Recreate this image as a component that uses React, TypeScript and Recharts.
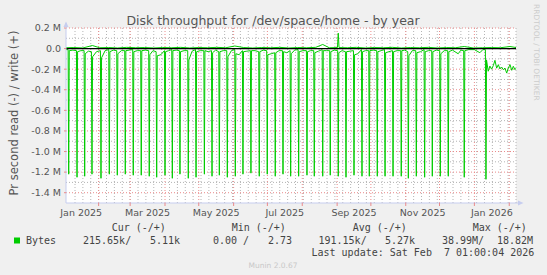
import React from 'react';
import { LineChart, Line, XAxis, YAxis, CartesianGrid, ReferenceLine } from 'recharts';

// x = days counted from 1 Jan 2025 (day 0); the graph shows the last 400 days
// y = bytes per second in millions (reads are drawn negative)
const xDomain = [2, 402];
const monthStarts = [31, 59, 90, 120, 151, 181, 212, 243, 273, 304, 334, 365, 396];
const monthLabelDays = [15.5, 74.5, 135.5, 196.5, 258, 319, 380.5];
const monthLabels = ['Jan 2025', 'Mar 2025', 'May 2025', 'Jul 2025', 'Sep 2025', 'Nov 2025', 'Jan 2026'];
const weekLines = Array.from({ length: 57 }, (_, i) => 10 + 7 * i);
const yTicks = [-1.4, -1.2, -1.0, -0.8, -0.6, -0.4, -0.2, 0, 0.2];
const yMinor = [-1.3, -1.1, -0.9, -0.7, -0.5, -0.3, -0.1, 0.1];

// weekly read bursts
const spikeDays = [
  4.4, 11.8, 18.6, 25.1, 33.1, 40.5, 47.6, 54.7, 61.8, 68.9,
  76.0, 82.6, 90.0, 96.5, 103.3, 110.7, 117.6, 125.0, 131.8, 138.3,
  145.4, 152.5, 159.3, 166.4, 173.8, 180.9, 188.0, 194.9, 201.7, 208.8,
  216.2, 222.7, 230.2, 236.9, 244.0, 250.9, 258.0, 265.1, 271.6, 278.7,
  285.6, 292.7, 300.0, 306.3, 313.4, 320.8, 327.6, 334.7, 341.8, 356.0,
  375.3,
];
const spikeDepth = [
  -1.22, -1.25, -1.24, -1.22, -1.26, -1.22, -1.23, -1.22, -1.23, -1.23,
  -1.24, -1.25, -1.23, -1.26, -1.22, -1.26, -1.25, -1.22, -1.24, -1.23,
  -1.25, -1.24, -1.22, -1.21, -1.24, -1.22, -1.24, -1.22, -1.24, -1.24,
  -1.23, -1.24, -1.24, -1.23, -1.24, -1.25, -1.23, -1.24, -1.24, -1.24,
  -1.24, -1.24, -1.24, -1.26, -1.24, -1.25, -1.24, -1.24, -1.24, -1.25,
  -1.27,
];
const preVals = [
  -0.01, -0.02, -0.02, -0.03, -0.02, -0.01, -0.02, -0.02, -0.01, -0.02,
  -0.02, -0.03, -0.02, -0.01, -0.02, -0.02, -0.01, -0.02, -0.02, -0.03,
  -0.02, -0.01, -0.02, -0.02, -0.03, -0.02, -0.04, -0.02, -0.02, -0.01,
  -0.02, -0.02, -0.01, -0.02, -0.02, -0.03, -0.02, -0.01, -0.02, -0.02,
  -0.01, -0.02, -0.02, -0.03, -0.02, -0.01, -0.02, -0.02, -0.02, -0.02,
  -0.01,
];
const postVals = [
  -0.02, -0.03, -0.05, -0.08, -0.09, -0.03, -0.05, -0.02, -0.03, -0.02,
  -0.06, -0.07, -0.03, -0.02, -0.03, -0.11, -0.03, -0.02, -0.04, -0.03,
  -0.08, -0.05, -0.03, -0.02, -0.03, -0.06, -0.04, -0.03, -0.05, -0.03,
  -0.03, -0.04, -0.02, -0.03, -0.04, -0.03, -0.06, -0.03, -0.02, -0.03,
  -0.04, -0.03, -0.02, -0.07, -0.04, -0.03, -0.03, -0.05, -0.03, -0.02,
  -0.11,
];
// read level between the bursts, and the noisy tail after mid January
const baseDays = [
  2.0, 8.1, 15.2, 21.9, 29.1, 36.8, 44.0, 51.2, 58.2, 65.3, 72.4,
  79.3, 86.3, 93.2, 99.9, 107.0, 114.1, 121.3, 128.4, 135.0, 141.8,
  149.0, 155.9, 162.8, 170.1, 177.3, 184.4, 191.4, 198.3, 205.2, 212.5,
  219.4, 226.4, 233.5, 240.4, 247.4, 254.4, 261.5, 268.3, 275.1, 282.1,
  289.1, 296.3, 303.1, 309.8, 317.1, 324.2, 331.1, 338.2,
  345.5, 350.6, 353.0, 360.0, 365.0, 369.9, 372.5,
  377.3, 378.8, 380.3, 381.8, 383.3, 384.8, 386.3, 387.7, 389.2,
  390.7, 392.2, 393.7, 395.2, 396.7, 398.2, 399.6, 401.1, 402.0,
];
const baseVals = [
  -0.01, -0.015, -0.02, -0.025, -0.03, -0.02, -0.015, -0.02, -0.015, -0.02, -0.015,
  -0.02, -0.06, -0.02, -0.015, -0.02, -0.025, -0.02, -0.03, -0.015, -0.02,
  -0.02, -0.06, -0.025, -0.02, -0.015, -0.05, -0.02, -0.04, -0.015, -0.02,
  -0.02, -0.025, -0.02, -0.015, -0.02, -0.025, -0.05, -0.02, -0.015, -0.02,
  -0.03, -0.02, -0.015, -0.02, -0.03, -0.02, -0.015, -0.02,
  -0.015, -0.05, -0.015, -0.01, -0.01, -0.04, -0.01,
  -0.22, -0.17, -0.2, -0.166, -0.114, -0.19, -0.156, -0.198, -0.179,
  -0.205, -0.189, -0.238, -0.189, -0.156, -0.211, -0.172, -0.205, -0.19,
];
const writeDays = [
  2, 9, 17, 25.4, 32, 40, 48, 56, 64, 72,
  80, 88, 96, 104, 112, 120, 128, 136, 144, 152,
  160, 168, 176, 184, 192, 200, 208, 216, 224, 230.2,
  236, 243.3, 244.0, 244.7, 252, 260, 268, 276, 284, 292,
  300, 308, 316, 324, 332, 340, 348, 356, 364, 372,
  380, 388, 396.7, 402,
];
const writeVals = [
  0.008, 0.01, 0.006, 0.03, 0.008, 0.01, 0.006, 0.012, 0.008, 0.01,
  0.006, 0.01, 0.008, 0.012, 0.006, 0.01, 0.008, 0.012, 0.008, 0.025,
  0.01, 0.006, 0.01, 0.008, 0.012, 0.006, 0.01, 0.008, 0.012, 0.04,
  0.008, 0.01, 0.15, 0.01, 0.008, 0.012, 0.006, 0.01, 0.008, 0.012,
  0.006, 0.01, 0.008, 0.012, 0.006, 0.01, 0.008, 0.02, 0.006, 0.008,
  0.01, 0.008, 0.02, 0.01,
];

const readData = [
  ...spikeDays.flatMap((d, i) => [
    { d: d - 0.5, v: preVals[i] },
    { d, v: spikeDepth[i] },
    { d: d + 0.5, v: postVals[i] },
  ]),
  ...baseDays.map((d, i) => ({ d, v: baseVals[i] })),
].sort((a, b) => a.d - b.d);
const writeData = writeDays.map((d, i) => ({ d, v: writeVals[i] }));

const GREEN = '#00cc00';
const AXIS = '#c6cdef';
const MINOR = '#b4b4b4';
const MAJOR = '#ea8a8a';
const FONT = 'DejaVu Sans';
const MONO = 'DejaVu Sans Mono';

const fmtY = (v: number) => (v === 0 ? '0.0' : `${v.toFixed(1)} M`);

const MonthTick = (props: any) => {
  const { x, y, payload } = props;
  const idx = monthLabelDays.indexOf(payload.value);
  if (idx >= 0) {
    return (
      <text x={x} y={y} dy={10} textAnchor="middle" fill="#555" fontSize={9.5} fontFamily={FONT}>
        {monthLabels[idx]}
      </text>
    );
  }
  return <line x1={x} x2={x} y1={y - 3} y2={y} stroke={MAJOR} />;
};

export default function App() {
  const xTicks = [...monthStarts, ...monthLabelDays].sort((a, b) => a - b);
  const legendTxt = { fontFamily: MONO, fontSize: 10, fill: '#444' };
  return (
    <div style={{ position: 'absolute', left: 0, top: 0, width: 547, height: 275, background: '#f0f0f0' }}>
      <LineChart width={547} height={275} margin={{ top: 28, right: 31, bottom: 0, left: 0 }}>
        <CartesianGrid fill="#ffffff" stroke="none" horizontal={false} vertical={false} />
        <XAxis
          type="number"
          dataKey="d"
          domain={xDomain}
          ticks={xTicks}
          interval={0}
          allowDataOverflow
          height={72}
          tickSize={3}
          tickMargin={0}
          tickLine={false}
          axisLine={{ stroke: AXIS }}
          tick={<MonthTick />}
        />
        <YAxis
          type="number"
          domain={[-1.5, 0.2]}
          ticks={yTicks}
          allowDataOverflow
          width={66}
          tickSize={2}
          tickMargin={3}
          tickLine={{ stroke: MAJOR }}
          axisLine={{ stroke: AXIS }}
          tick={{ fill: '#555', fontSize: 9.5, fontFamily: FONT }}
          tickFormatter={fmtY}
        />
        {weekLines.map((d) => (
          <ReferenceLine key={`w${d}`} x={d} stroke={MINOR} strokeDasharray="1 2" />
        ))}
        {yMinor.map((v) => (
          <ReferenceLine key={`m${v}`} y={v} stroke={MINOR} strokeDasharray="1 2" />
        ))}
        {monthStarts.map((d) => (
          <ReferenceLine key={`M${d}`} x={d} stroke={MAJOR} strokeDasharray="1 2" />
        ))}
        {yTicks.map((v) => (
          <ReferenceLine key={`Y${v}`} y={v} stroke={MAJOR} strokeDasharray="1 2" />
        ))}
        <Line data={readData} dataKey="v" type="linear" stroke={GREEN} strokeWidth={1} dot={false} isAnimationActive={false} />
        <Line data={writeData} dataKey="v" type="linear" stroke={GREEN} strokeWidth={1} dot={false} isAnimationActive={false} />
        <ReferenceLine y={0} stroke="#000" strokeWidth={1.2} />
      </LineChart>
      <svg width={547} height={275} style={{ position: 'absolute', left: 0, top: 0, pointerEvents: 'none' }}>
        <text x={273} y={25} textAnchor="middle" fontFamily={FONT} fontSize={12.5} fill="#555">
          Disk throughput for /dev/space/home - by year
        </text>
        <text transform="translate(18,113) rotate(-90)" textAnchor="middle" fontFamily={FONT} fontSize={11.5} fill="#555">
          Pr second read (-) / write (+)
        </text>
        <text transform="translate(534,4) rotate(90)" fontFamily={FONT} fontSize={7.5} fill="#cccccc">
          RRDTOOL / TOBI OETIKER
        </text>
        <line x1={66} x2={66} y1={23} y2={28} stroke={AXIS} />
        <polygon points="63.5,27 68.5,27 66,21.5" fill={AXIS} />
        <line x1={516} x2={519} y1={203} y2={203} stroke={AXIS} />
        <polygon points="518,200.5 518,205.5 523.5,203" fill={AXIS} />

        <text x={111.7} y={231} {...legendTxt}>Cur (-/+)</text>
        <text x={231.7} y={231} {...legendTxt}>Min (-/+)</text>
        <text x={352.7} y={231} {...legendTxt}>Avg (-/+)</text>
        <text x={472.7} y={231} {...legendTxt}>Max (-/+)</text>

        <rect x={14} y={237.5} width={6} height={6} fill={GREEN} />
        <text x={26} y={243.5} {...legendTxt}>Bytes</text>
        <text x={83} y={243.5} {...legendTxt}>215.65k/</text>
        <text x={150} y={243.5} {...legendTxt}>5.11k</text>
        <text x={213} y={243.5} {...legendTxt}>0.00 /</text>
        <text x={268} y={243.5} {...legendTxt}>2.73</text>
        <text x={318.5} y={243.5} {...legendTxt}>191.15k/</text>
        <text x={385} y={243.5} {...legendTxt}>5.27k</text>
        <text x={442} y={243.5} {...legendTxt}>38.99M/</text>
        <text x={497} y={243.5} {...legendTxt}>18.82M</text>

        <text x={311.5} y={256} {...legendTxt} style={{ whiteSpace: 'pre' }}>
          {'Last update: Sat Feb  7 01:00:04 2026'}
        </text>
        <text x={273} y={268} textAnchor="middle" fontFamily={FONT} fontSize={7.5} fill="#c8c8c8">
          Munin 2.0.67
        </text>
      </svg>
    </div>
  );
}
